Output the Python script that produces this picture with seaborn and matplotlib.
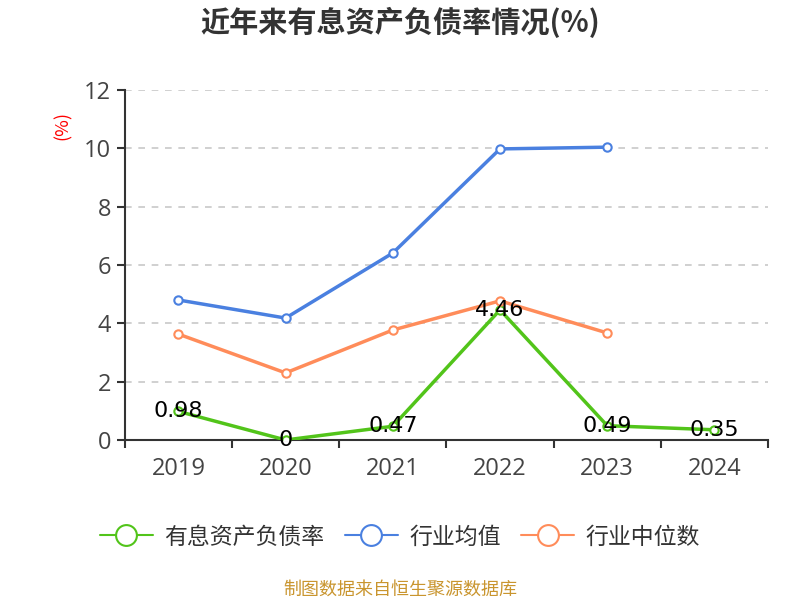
import matplotlib
matplotlib.use("Agg")
import matplotlib.pyplot as plt
from matplotlib.lines import Line2D
import seaborn as sns
import pandas as pd

# ---- data ----
years = ["2019", "2020", "2021", "2022", "2023", "2024"]
debt_ratio = [0.98, 0.0, 0.47, 4.46, 0.49, 0.35]
industry_mean = [4.80, 4.18, 6.41, 9.98, 10.04]
industry_median = [3.63, 2.30, 3.77, 4.77, 3.67]

series_names = ["有息资产负债率", "行业均值", "行业中位数"]
series_colors = ["#52c41a", "#4a80e0", "#ff8c5a"]

sns.set_theme(style="white")
plt.rcParams['font.family'] = ['Noto Sans CJK SC', 'DejaVu Sans']

fig = plt.figure(figsize=(8, 6), dpi=100)
ax = fig.add_axes([0.156, 0.2667, 0.804, 0.5833])

frames = []
for name, vals in zip(series_names, [debt_ratio, industry_mean, industry_median]):
    frames.append(pd.DataFrame({"year": years[:len(vals)], "value": vals, "series": name}))
df = pd.concat(frames, ignore_index=True)

for name, color in zip(series_names, series_colors):
    sub = df[df["series"] == name]
    sns.lineplot(data=sub, x="year", y="value", ax=ax, color=color, lw=2.5,
                 marker="o", markersize=6, markerfacecolor="white",
                 markeredgecolor=color, markeredgewidth=1.5,
                 legend=False, zorder=3)

# value labels on the main series
for i, v in enumerate(debt_ratio):
    txt = "0" if v == 0 else f"{v:g}"
    ax.text(i, v, txt, ha="center", va="center", fontsize=16, color="black",
            family=["DejaVu Sans"], zorder=5)

ax.set_xlim(-0.5, len(years) - 0.5)
ax.set_ylim(0, 12)
ax.set_yticks(range(0, 13, 2))
ax.set_xticks(range(len(years)))
ax.set_xticklabels(years)
ax.set_xticks([i - 0.5 for i in range(len(years) + 1)], minor=True)
ax.set_xlabel("")
ax.set_ylabel("")

ax.grid(axis="y", linestyle=(0, (4, 4)), color="#c8c8c8", lw=1.2)
ax.grid(axis="x", visible=False)
for side in ["top", "right"]:
    ax.spines[side].set_visible(False)
for side in ["left", "bottom"]:
    ax.spines[side].set_color("#333333")
    ax.spines[side].set_linewidth(1.5)

ax.tick_params(axis="y", which="major", left=True, length=6, width=1.5,
               color="#333333", labelsize=17, labelcolor="#444444", pad=4)
ax.tick_params(axis="x", which="major", bottom=False, labelsize=17,
               labelcolor="#444444", pad=6)
ax.tick_params(axis="x", which="minor", bottom=True, length=6, width=1.5,
               color="#333333")
for lab in ax.get_xticklabels() + ax.get_yticklabels():
    lab.set_family(["Open Sans", "DejaVu Sans"])

fig.text(0.5, 0.962, "近年来有息资产负债率情况(%)", ha="center", va="center",
         fontsize=21, fontweight="bold", color="#333333")
fig.text(0.078, 0.79, "(%)", ha="center", va="center", rotation=90,
         fontsize=13, color="red")

handles = [Line2D([], [], color=c, lw=1.5, marker="o", markersize=15,
                  markerfacecolor="white", markeredgecolor=c, markeredgewidth=1.5)
           for c in series_colors]
fig.legend(handles, series_names, loc="center", bbox_to_anchor=(0.5, 0.105), ncol=3,
           frameon=False, fontsize=16.5, handlelength=2.3, columnspacing=0.9,
           handletextpad=0.5, labelcolor="#333333")

fig.text(0.5, 0.017, "制图数据来自恒生聚源数据库", ha="center", va="center",
         fontsize=13, color="#c9952e")

fig.savefig("out.png", dpi=100)
